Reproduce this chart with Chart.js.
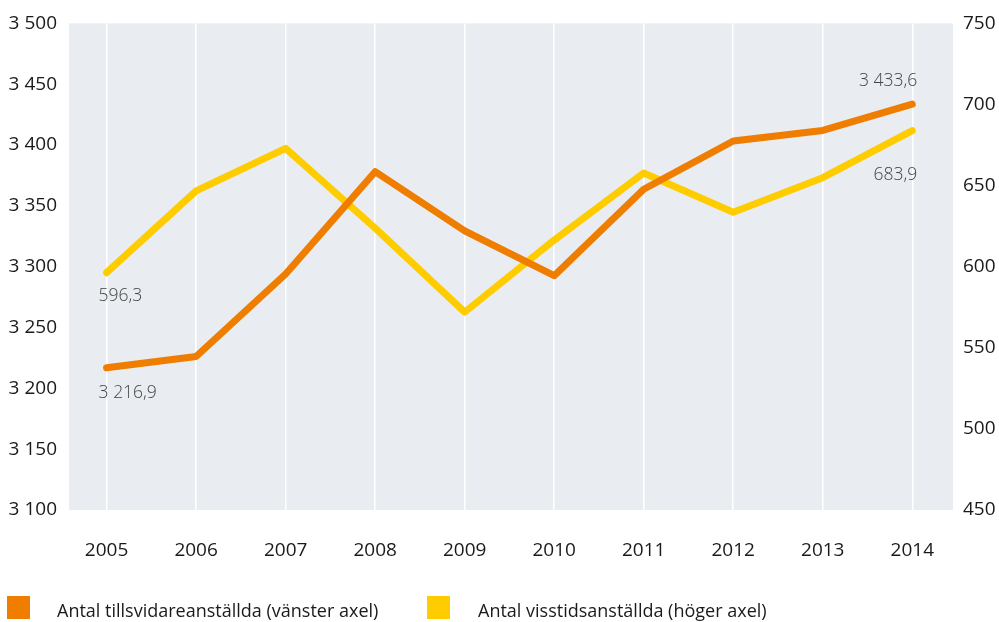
<!DOCTYPE html>
<html lang="sv">
<head>
<meta charset="utf-8">
<script src="https://cdn.jsdelivr.net/npm/chart.js@4.4.1/dist/chart.umd.min.js"></script>
<style>
  html, body { margin: 0; padding: 0; background: #fff; }
  #wrap { position: relative; width: 999px; height: 622px; overflow: hidden; }
  canvas { display: block; }
</style>
</head>
<body>
<div id="wrap"><canvas id="c" width="999" height="622"></canvas></div>
<script>
// Years on the x axis
const years = [2005, 2006, 2007, 2008, 2009, 2010, 2011, 2012, 2013, 2014];
// Permanent employees (left axis)
const tillsvidare = [3216.9, 3226.2, 3294.0, 3378.1, 3329.5, 3292.6, 3363.7, 3403.3, 3412.0, 3433.6];
// Fixed-term employees (right axis)
const visstid = [596.3, 646.7, 673.0, 623.8, 572.0, 616.4, 657.8, 633.6, 654.9, 683.9];
// Axis ranges and ticks
const leftTicks = [3100, 3150, 3200, 3250, 3300, 3350, 3400, 3450, 3500];
const rightTicks = [450, 500, 550, 600, 650, 700, 750];
const seriesNames = ['Antal tillsvidareanställda (vänster axel)', 'Antal visstidsanställda (höger axel)'];

const ORANGE = '#ef7d00';
const YELLOW = '#ffcc00';
const FONT = '"Open Sans", "Liberation Sans", sans-serif';

function fmt(v, decimals) {
  const s = v.toFixed(decimals).replace('.', ',');
  const [ip, dp] = s.split(',');
  const grouped = ip.replace(/\B(?=(\d{3})+(?!\d))/g, ' ');
  return dp !== undefined ? grouped + ',' + dp : grouped;
}

// Plot background
const plotBg = {
  id: 'plotBg',
  beforeDraw(chart) {
    const { ctx, chartArea: a } = chart;
    ctx.save();
    ctx.fillStyle = '#e9ecf1';
    ctx.fillRect(a.left, a.top, a.right - a.left, a.bottom - a.top);
    ctx.restore();
  }
};

// Value labels at the first and last points of each series
const endLabels = {
  id: 'endLabels',
  afterDatasetsDraw(chart) {
    const { ctx } = chart;
    ctx.save();
    ctx.font = '300 17.5px ' + FONT;
    ctx.fillStyle = '#444';
    ctx.textBaseline = 'middle';
    const m0 = chart.getDatasetMeta(0).data;
    const m1 = chart.getDatasetMeta(1).data;
    const last = years.length - 1;
    ctx.textAlign = 'left';
    ctx.fillText(fmt(visstid[0], 1), m1[0].x - 8, m1[0].y + 23);
    ctx.fillText(fmt(tillsvidare[0], 1), m0[0].x - 8, m0[0].y + 25);
    ctx.textAlign = 'right';
    ctx.fillText(fmt(tillsvidare[last], 1), m0[last].x + 5, m0[last].y - 23);
    ctx.fillText(fmt(visstid[last], 1), m1[last].x + 5, m1[last].y + 44);
    ctx.restore();
  }
};

// Legend along the bottom edge
const bottomLegend = {
  id: 'bottomLegend',
  afterDraw(chart) {
    const { ctx } = chart;
    const items = [
      { x: 7, color: ORANGE, text: seriesNames[0], tx: 57 },
      { x: 427, color: YELLOW, text: seriesNames[1], tx: 478 }
    ];
    ctx.save();
    ctx.font = '18px ' + FONT;
    ctx.textBaseline = 'middle';
    ctx.textAlign = 'left';
    items.forEach(it => {
      ctx.fillStyle = it.color;
      ctx.fillRect(it.x, 596, 23, 23);
      ctx.fillStyle = '#1a1a1a';
      ctx.fillText(it.text, it.tx, 612);
    });
    ctx.restore();
  }
};

new Chart(document.getElementById('c'), {
  type: 'line',
  data: {
    datasets: [
      {
        label: seriesNames[0],
        data: years.map((y, i) => ({ x: y, y: tillsvidare[i] })),
        borderColor: ORANGE,
        backgroundColor: ORANGE,
        borderWidth: 7,
        pointRadius: 0,
        borderCapStyle: 'round',
        borderJoinStyle: 'round',
        yAxisID: 'yL'
      },
      {
        label: seriesNames[1],
        data: years.map((y, i) => ({ x: y, y: visstid[i] })),
        borderColor: YELLOW,
        backgroundColor: YELLOW,
        borderWidth: 7,
        pointRadius: 0,
        borderCapStyle: 'round',
        borderJoinStyle: 'round',
        yAxisID: 'yR'
      }
    ]
  },
  options: {
    responsive: false,
    animation: false,
    layout: { padding: { top: 22, left: 0, right: 0, bottom: 0 } },
    plugins: { legend: { display: false }, tooltip: { enabled: false } },
    scales: {
      x: {
        type: 'linear',
        min: 2004.58,
        max: 2014.455,
        afterBuildTicks: ax => { ax.ticks = years.map(v => ({ value: v })); },
        afterFit: ax => { ax.height = 112; },
        border: { display: false },
        grid: { color: '#ffffff', lineWidth: 1.5, drawTicks: false },
        ticks: {
          padding: 29,
          color: '#1a1a1a',
          font: { family: FONT, size: 19 },
          callback: v => String(v),
          maxRotation: 0,
          autoSkip: false
        }
      },
      yL: {
        position: 'left',
        min: 3100,
        max: 3500,
        afterBuildTicks: ax => { ax.ticks = leftTicks.map(v => ({ value: v })); },
        afterFit: ax => { ax.width = 69; },
        border: { display: false },
        grid: { display: false, drawTicks: false },
        ticks: {
          padding: 12,
          color: '#1a1a1a',
          font: { family: FONT, size: 19 },
          callback: v => fmt(v, 0)
        }
      },
      yR: {
        position: 'right',
        min: 450,
        max: 750,
        afterBuildTicks: ax => { ax.ticks = rightTicks.map(v => ({ value: v })); },
        afterFit: ax => { ax.width = 46; },
        border: { display: false },
        grid: { display: false, drawTicks: false },
        ticks: {
          padding: 10,
          color: '#1a1a1a',
          font: { family: FONT, size: 19 },
          callback: v => String(v)
        }
      }
    }
  },
  plugins: [plotBg, endLabels, bottomLegend]
});
</script>
</body>
</html>
